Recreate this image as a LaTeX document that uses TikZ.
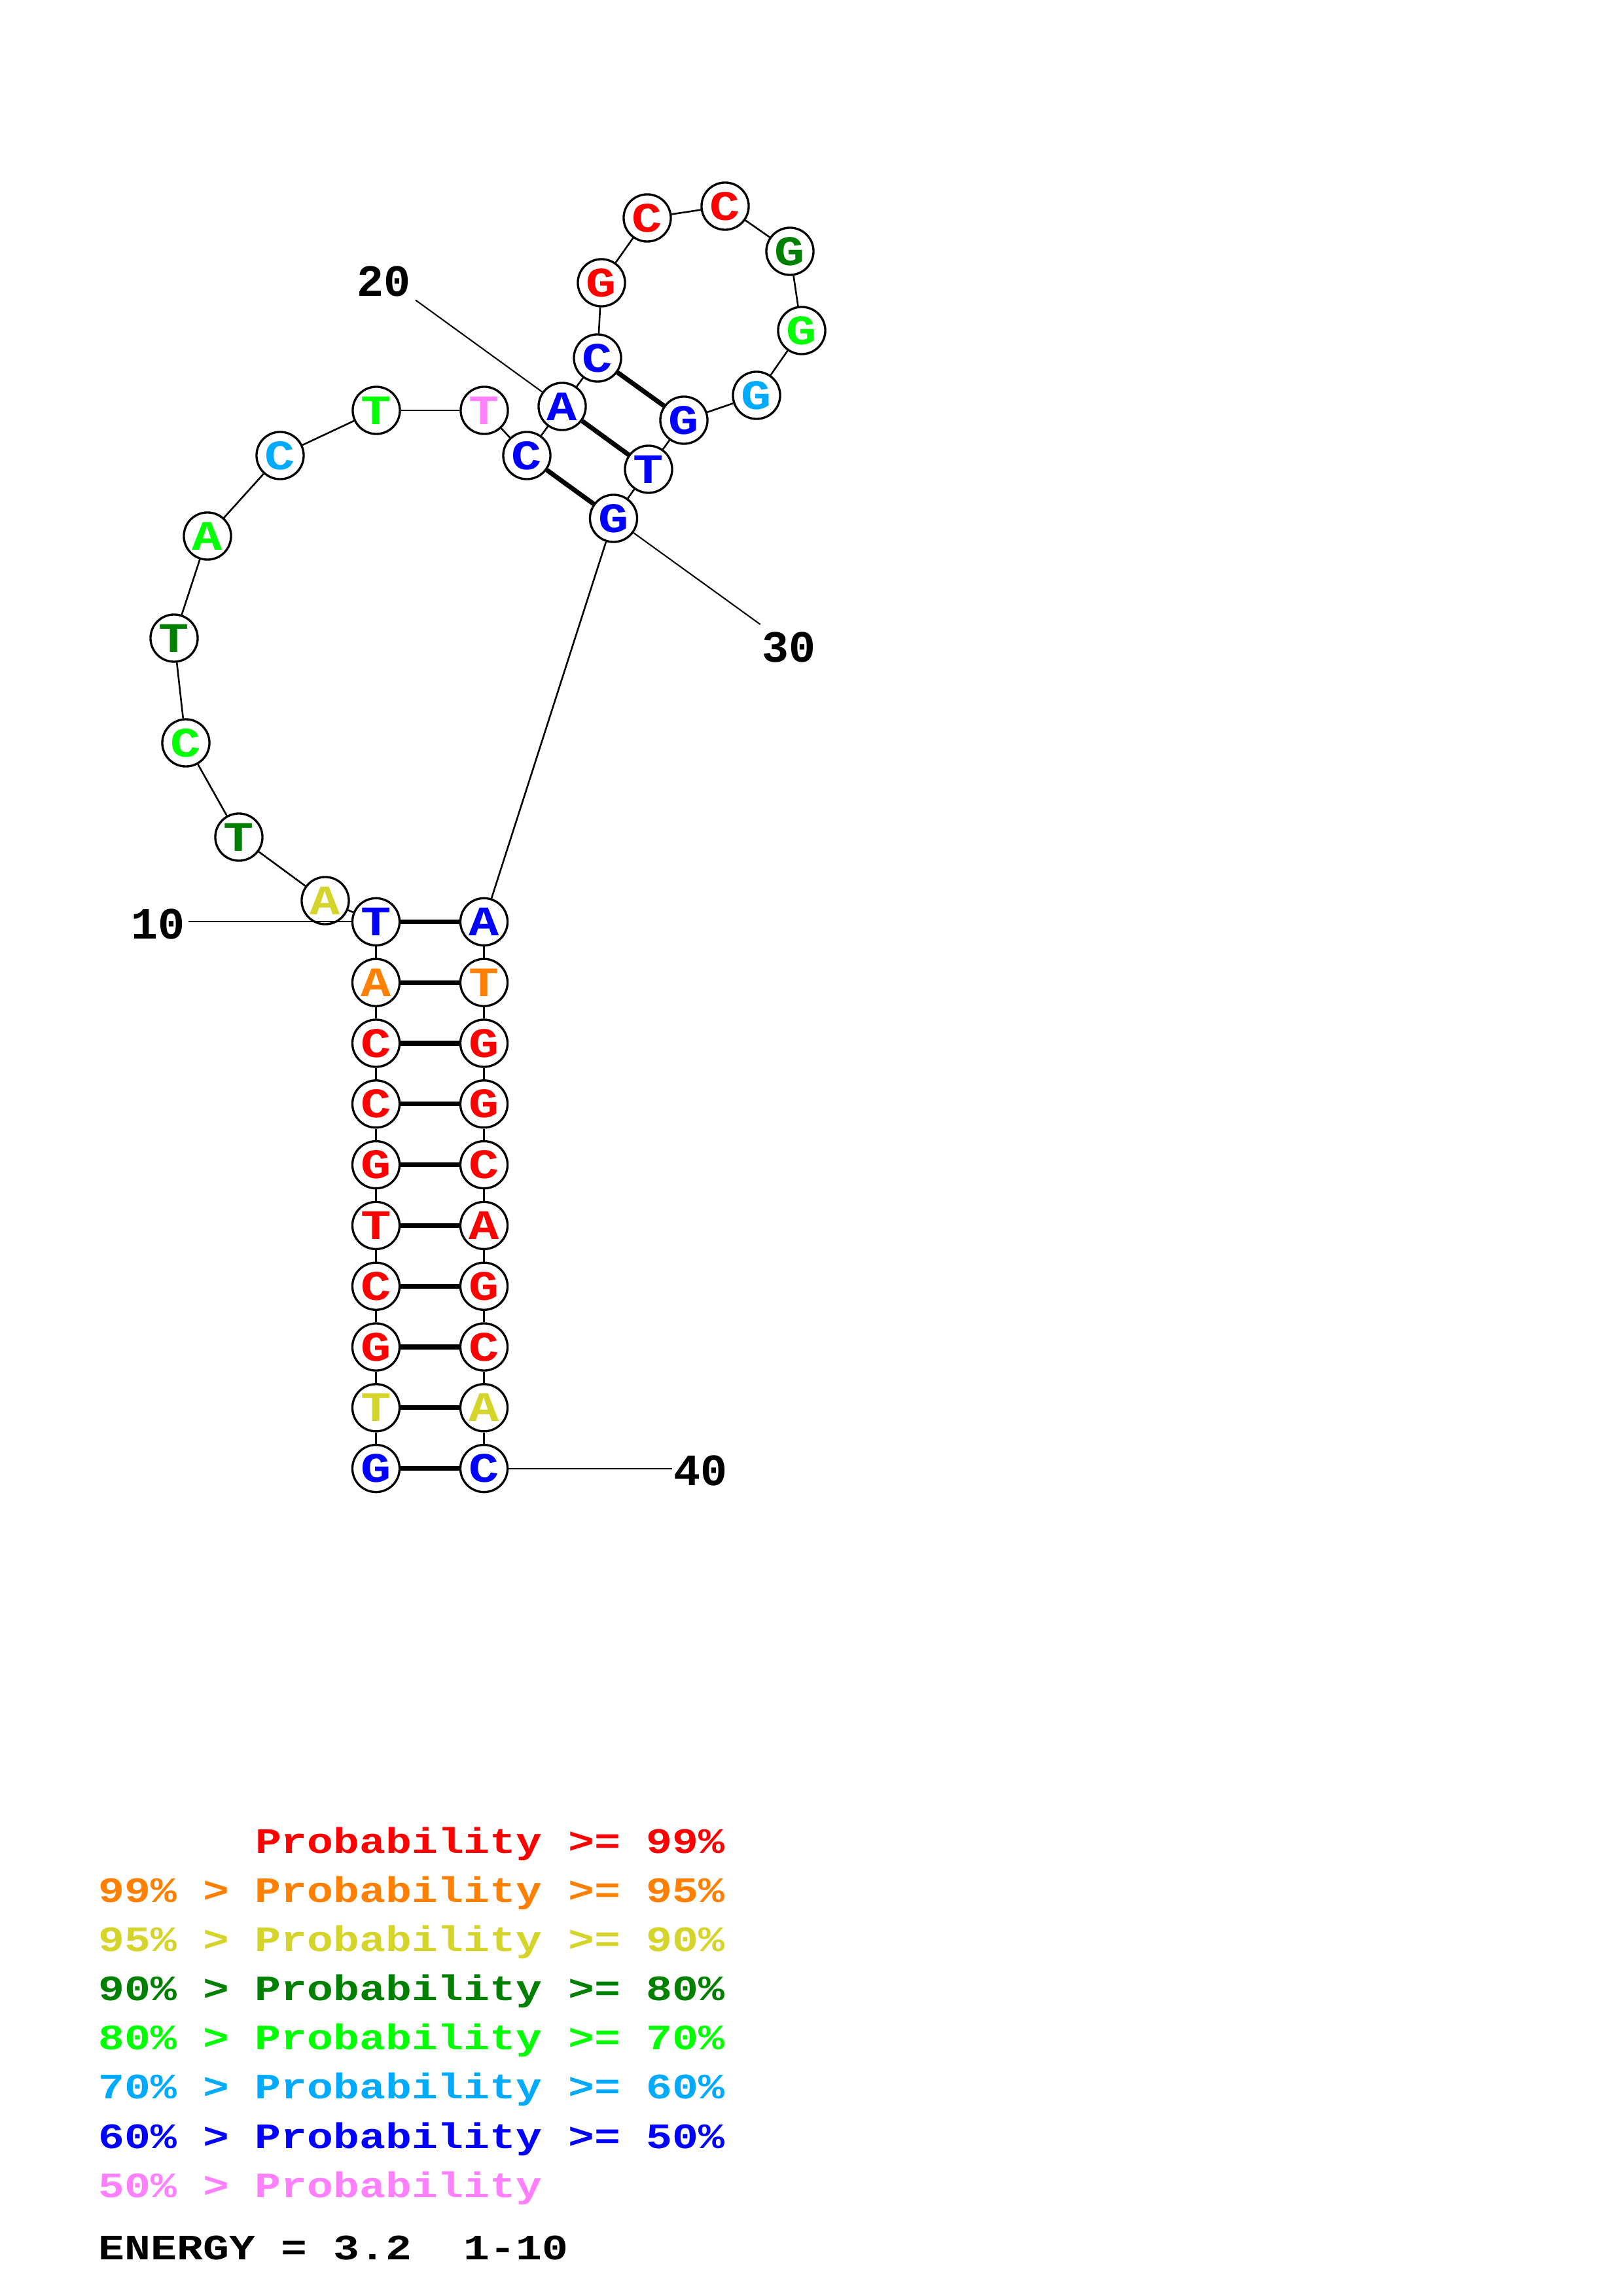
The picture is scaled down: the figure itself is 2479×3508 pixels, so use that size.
\documentclass[tikz,border=0pt]{standalone}
\usepackage{fontspec}
\newfontfamily\nucfont[FakeStretch=1.2]{Liberation Mono}
\newfontfamily\legfont[FakeStretch=1.217]{Liberation Mono}
\newfontfamily\labfont{Liberation Mono}
\definecolor{pred}{RGB}{255,0,0}
\definecolor{porange}{RGB}{255,128,0}
\definecolor{pyellow}{RGB}{212,212,42}
\definecolor{pdkgreen}{RGB}{0,128,0}
\definecolor{pgreen}{RGB}{0,255,0}
\definecolor{pltblue}{RGB}{0,170,255}
\definecolor{pblue}{RGB}{0,0,255}
\definecolor{ppink}{RGB}{255,128,255}
\begin{document}
\begin{tikzpicture}[x=0.24pt,y=-0.24pt,
  nuc/.style={circle,draw=black,line width=0.8pt,fill=white,minimum size=17.3pt,inner sep=0pt,
    font=\nucfont\bfseries\fontsize{15.4}{15.4}\selectfont},
  bb/.style={line width=0.62pt},
  bp/.style={line width=1.7pt},
  lbl/.style={inner sep=0pt,font=\labfont\bfseries\fontsize{16.4}{16.4}\selectfont},
  lblline/.style={line width=0.5pt},
  leg/.style={anchor=base west,inner sep=0pt,font=\legfont\bfseries\fontsize{13.1}{13.1}\selectfont}]
\path[use as bounding box,fill=white] (0,0) rectangle (2479,3508);
% nucleotides
\foreach \i/\x/\y/\l/\c in {
  1/574.5/2243.6/G/pblue, 2/574.5/2150.8/T/pyellow, 3/574.5/2058/G/pred,
  4/574.5/1965.2/C/pred, 5/574.5/1872.4/T/pred, 6/574.5/1779.6/G/pred,
  7/574.5/1686.8/C/pred, 8/574.5/1594/C/pred, 9/574.5/1501.2/A/porange,
  10/574.5/1408.4/T/pblue,
  11/497/1376/A/pyellow, 12/365/1279/T/pdkgreen, 13/284/1135/C/pgreen,
  14/266/975/T/pdkgreen, 15/317/819/A/pgreen, 16/428/696/C/pltblue,
  17/575/627/T/pgreen, 18/740/627/T/ppink, 19/805/696/C/pblue,
  20/859/621/A/pblue, 21/913/547/C/pblue, 22/919/432/G/pred,
  23/989/333/C/pred, 24/1108/315/C/pred, 25/1207/384/G/pdkgreen,
  26/1225/505/G/pgreen, 27/1156/604/G/pltblue, 28/1045/642/G/pblue,
  29/991/717/T/pblue, 30/937.5/792/G/pblue,
  31/739.5/1408.4/A/pblue, 32/739.5/1501.2/T/porange, 33/739.5/1594/G/pred,
  34/739.5/1686.8/G/pred, 35/739.5/1779.6/C/pred, 36/739.5/1872.4/A/pred,
  37/739.5/1965.2/G/pred, 38/739.5/2058/C/pred, 39/739.5/2150.8/A/pyellow,
  40/739.5/2243.6/C/pblue}
  \node[nuc,text=\c] (n\i) at (\x,\y) {\l};
% backbone
\foreach \i [evaluate=\i as \j using int(\i+1)] in {1,...,39}
  \draw[bb] (n\i) -- (n\j);
% base pairs
\foreach \a/\b in {1/40,2/39,3/38,4/37,5/36,6/35,7/34,8/33,9/32,10/31,19/30,20/29,21/28}
  \draw[bp] (n\a) -- (n\b);
% position labels
\node[lbl] (l10) at (241.5,1411.6) {10};
\node[lbl] (l20) at (586.8,430) {20};
\node[lbl] (l30) at (1205,989) {30};
\node[lbl] (l40) at (1070,2247) {40};
\coordinate (e10) at (288,1408.4);
\coordinate (e20) at (635,458.5);
\coordinate (e30) at (1161.7,954);
\coordinate (e40) at (1026.7,2243.6);
\draw[lblline] (n10) -- (e10);
\draw[lblline] (n20) -- (e20);
\draw[lblline] (n30) -- (e30);
\draw[lblline] (n40) -- (e40);
% legend
\node[leg,text=pred]     (g1) at (150,2831) {\phantom{99\% > }Probability >= 99\%};
\node[leg,text=porange]  (g2) at (150,2906) {99\% > Probability >= 95\%};
\node[leg,text=pyellow]  (g3) at (150,2981) {95\% > Probability >= 90\%};
\node[leg,text=pdkgreen] (g4) at (150,3056) {90\% > Probability >= 80\%};
\node[leg,text=pgreen]   (g5) at (150,3131) {80\% > Probability >= 70\%};
\node[leg,text=pltblue]  (g6) at (150,3206) {70\% > Probability >= 60\%};
\node[leg,text=pblue]    (g7) at (150,3282) {60\% > Probability >= 50\%};
\node[leg,text=ppink]    (g8) at (150,3357) {50\% > Probability};
\node[leg,text=black]    (g9) at (150,3452) {ENERGY = 3.2\ \ 1-10};
\end{tikzpicture}
\end{document}
